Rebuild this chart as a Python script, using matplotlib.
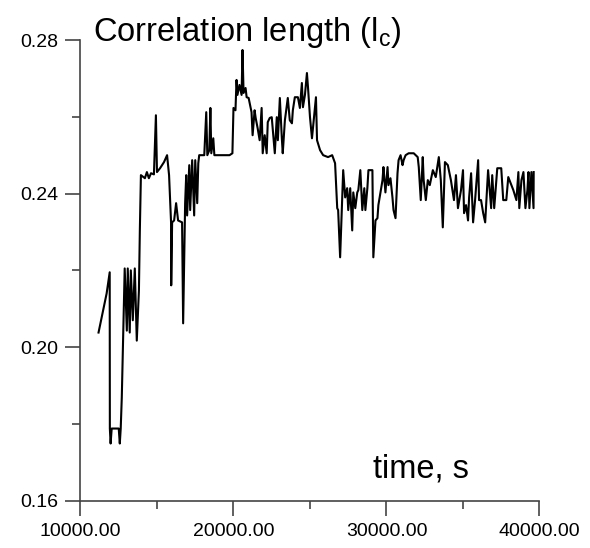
import matplotlib
matplotlib.use("Agg")
from matplotlib import pyplot as plt
from matplotlib.ticker import MultipleLocator, FormatStrFormatter

plt.rcParams['font.family'] = ['Liberation Sans', 'DejaVu Sans']
plt.rcParams['mathtext.fontset'] = 'custom'
plt.rcParams['mathtext.rm'] = 'Liberation Sans'

# time (s) and correlation length
time_s = [11180, 11710, 11910, 11920, 11970, 12040, 12500, 12570, 12630, 12700,
          12890, 13030, 13090, 13220, 13290, 13420, 13550, 13680, 13820, 13880,
          13950, 14210, 14340, 14470, 14610, 14800, 14930, 15000, 15200, 15460,
          15660, 15790, 15920, 15930, 15990, 16120, 16250, 16380, 16640, 16710,
          16840, 16910, 16970, 17110, 17170, 17300, 17430, 17500, 17630, 17700,
          17760, 18090, 18220, 18290, 18420, 18490, 18550, 18680, 18750, 19740,
          19930, 20000, 20130, 20200, 20260, 20390, 20530, 20590, 20660, 20790,
          20860, 20990, 21180, 21250, 21380, 21450, 21580, 21710, 21840, 21910,
          22040, 22170, 22240, 22370, 22500, 22570, 22700, 22830, 22900, 23030,
          23160, 23220, 23360, 23550, 23680, 23820, 23880, 24010, 24210, 24340,
          24470, 24540, 24670, 24800, 24870, 25000, 25130, 25260, 25390, 25460,
          25660, 25860, 26180, 26450, 26640, 26780, 26840, 26970, 27110, 27170,
          27300, 27430, 27500, 27630, 27760, 27830, 27960, 28090, 28160, 28290,
          28420, 28550, 28620, 28750, 28820, 29080, 29140, 29280, 29410, 29470,
          29610, 29740, 29800, 29930, 30070, 30130, 30260, 30390, 30460, 30590,
          30720, 30790, 30920, 31050, 31120, 31250, 31450, 31780, 32040, 32110,
          32240, 32370, 32430, 32570, 32700, 32830, 33030, 33220, 33420, 33550,
          33680, 33820, 34010, 34210, 34410, 34540, 34670, 34870, 35000, 35070,
          35200, 35330, 35400, 35530, 35660, 35790, 35990, 36050, 36180, 36320,
          36450, 36640, 36840, 36910, 37040, 37240, 37500, 37630, 37830, 37960,
          38160, 38290, 38490, 38620, 38680, 38820, 38950, 39080, 39210, 39280,
          39340, 39470, 39610, 39620]
corr_len = [0.2038, 0.2140, 0.2195, 0.1788, 0.1749, 0.1788, 0.1788, 0.1749, 0.1788, 0.1869,
            0.2205, 0.2043, 0.2205, 0.2038, 0.2200, 0.2070, 0.2205, 0.2017, 0.2148, 0.2304,
            0.2448, 0.2440, 0.2456, 0.2440, 0.2453, 0.2450, 0.2604, 0.2456, 0.2466, 0.2482,
            0.2500, 0.2448, 0.2325, 0.2161, 0.2325, 0.2330, 0.2375, 0.2330, 0.2325, 0.2062,
            0.2375, 0.2448, 0.2343, 0.2474, 0.2357, 0.2487, 0.2343, 0.2487, 0.2375, 0.2479,
            0.2500, 0.2500, 0.2612, 0.2500, 0.2513, 0.2623, 0.2505, 0.2544, 0.2500, 0.2500,
            0.2505, 0.2623, 0.2617, 0.2696, 0.2657, 0.2683, 0.2657, 0.2774, 0.2662, 0.2675,
            0.2651, 0.2649, 0.2612, 0.2552, 0.2617, 0.2597, 0.2570, 0.2539, 0.2623, 0.2505,
            0.2552, 0.2505, 0.2586, 0.2597, 0.2599, 0.2565, 0.2505, 0.2599, 0.2539, 0.2649,
            0.2544, 0.2505, 0.2591, 0.2649, 0.2591, 0.2583, 0.2617, 0.2651, 0.2651, 0.2623,
            0.2688, 0.2625, 0.2657, 0.2714, 0.2677, 0.2599, 0.2544, 0.2599, 0.2651, 0.2539,
            0.2513, 0.2500, 0.2495, 0.2500, 0.2479, 0.2362, 0.2357, 0.2234, 0.2390, 0.2461,
            0.2390, 0.2414, 0.2357, 0.2414, 0.2304, 0.2403, 0.2362, 0.2403, 0.2409, 0.2461,
            0.2357, 0.2414, 0.2357, 0.2414, 0.2461, 0.2461, 0.2234, 0.2330, 0.2336, 0.2370,
            0.2403, 0.2435, 0.2469, 0.2403, 0.2469, 0.2422, 0.2440, 0.2390, 0.2357, 0.2336,
            0.2453, 0.2487, 0.2500, 0.2474, 0.2487, 0.2500, 0.2505, 0.2505, 0.2495, 0.2469,
            0.2383, 0.2495, 0.2435, 0.2383, 0.2435, 0.2422, 0.2461, 0.2443, 0.2495, 0.2435,
            0.2312, 0.2482, 0.2474, 0.2435, 0.2383, 0.2448, 0.2362, 0.2409, 0.2461, 0.2349,
            0.2370, 0.2330, 0.2390, 0.2453, 0.2325, 0.2383, 0.2487, 0.2383, 0.2383, 0.2349,
            0.2325, 0.2461, 0.2362, 0.2448, 0.2362, 0.2466, 0.2466, 0.2383, 0.2383, 0.2443,
            0.2422, 0.2409, 0.2383, 0.2456, 0.2362, 0.2435, 0.2456, 0.2362, 0.2409, 0.2456,
            0.2362, 0.2456, 0.2362, 0.2456]

x_ticks = [10000, 20000, 30000, 40000]
y_ticks = [0.16, 0.20, 0.24, 0.28]

fig = plt.figure(figsize=(5.9, 5.48), dpi=100)
ax = fig.add_axes([0.1364, 0.0863, 0.778, 0.8407])

ax.plot(time_s, corr_len, color='black', linewidth=1.5)

ax.set_xlim(10000, 40000)
ax.set_ylim(0.16, 0.28)
ax.set_xticks(x_ticks)
ax.set_yticks(y_ticks)
ax.xaxis.set_minor_locator(MultipleLocator(5000))
ax.yaxis.set_minor_locator(MultipleLocator(0.02))
ax.xaxis.set_major_formatter(FormatStrFormatter('%.2f'))
ax.yaxis.set_major_formatter(FormatStrFormatter('%.2f'))

for s in ['top', 'right']:
    ax.spines[s].set_visible(False)
for s in ['left', 'bottom']:
    ax.spines[s].set_color('#444444')
    ax.spines[s].set_linewidth(1.2)

ax.tick_params(which='major', direction='out', length=11, width=1.2,
               color='#444444', labelsize=14)
ax.tick_params(axis='x', which='major', pad=5)
ax.tick_params(axis='y', which='major', pad=5)
ax.tick_params(which='minor', direction='out', length=5.5, width=1.2,
               color='#444444')

fig.text(0.157, 0.925, r'Correlation length (l$_{\rm c}$)', fontsize=23.5,
         va='baseline', ha='left')
ax.text(0.637, 0.05, 'time, s', fontsize=23.5, transform=ax.transAxes,
        va='baseline', ha='left')

plt.savefig('out.png', dpi=100)
